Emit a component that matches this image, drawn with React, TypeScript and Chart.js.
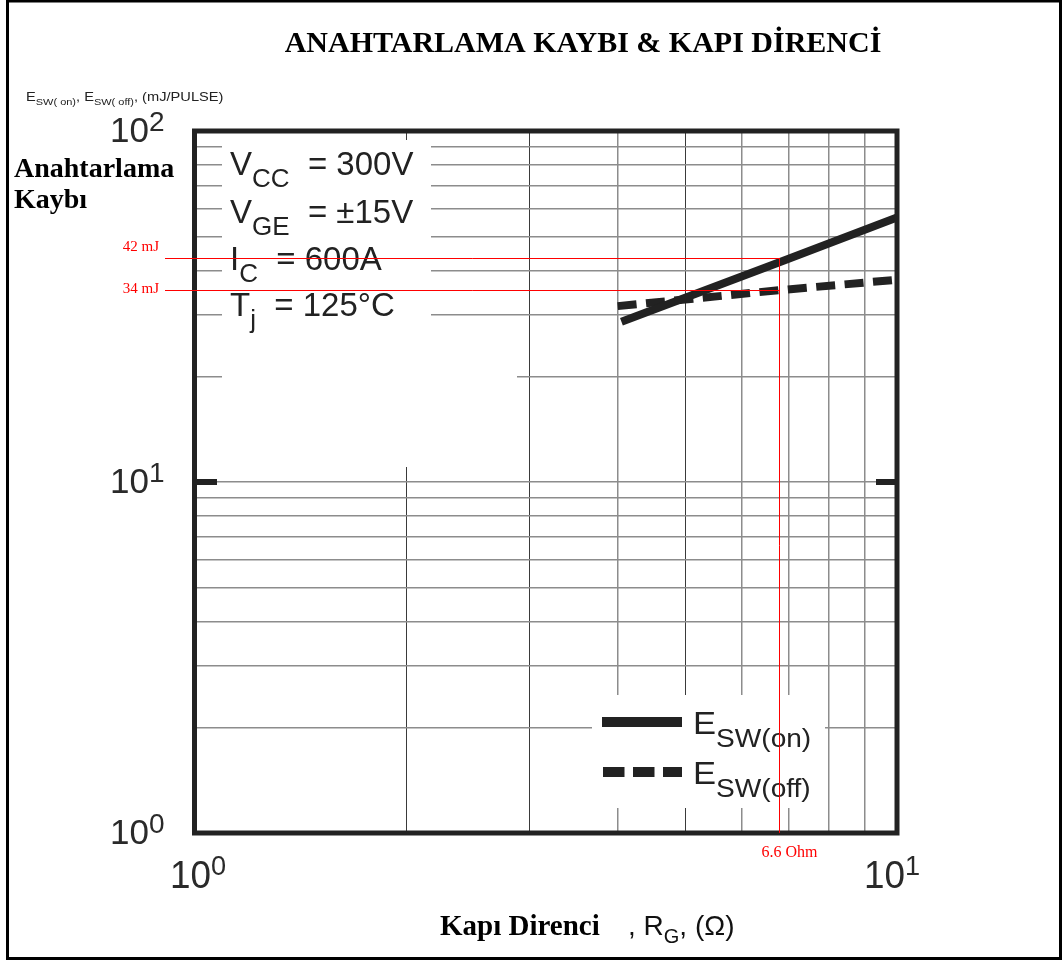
import React, { useEffect, useRef } from 'react';
import { Chart, registerables } from 'chart.js';
Chart.register(...registerables);

const TITLE = 'ANAHTARLAMA KAYBI & KAPI DİRENCİ';
const Y_TITLE_LINES = ['Anahtarlama', 'Kaybı'];
const X_TITLE_BOLD = 'Kapı Direnci';

const RG_ON = [4.05, 6.8, 10];
const E_ON = [28.6, 42.3, 56.7];
const RG_OFF = [4.0, 6.8, 10];
const E_OFF = [31.7, 35.2, 37.7];

const X_GRID = [1, 2, 3, 4, 5, 6, 7, 8, 9, 10];
const Y_GRID = [1, 2, 3, 4, 5, 6, 7, 8, 9, 10, 20, 30, 40, 50, 60, 70, 80, 90, 100];
const X_DARK = [2, 3, 5];
const X_DECADES = [1, 10];
const Y_DECADES = [1, 10, 100];

const COND_MAIN = ['V', 'V', 'I', 'T'];
const COND_SUB = ['CC', 'GE', 'C', 'j'];
const COND_REST = [' = 300V', ' = ±15V', ' = 600A', ' = 125°C'];

const LEGEND_SUBS = ['SW(on)', 'SW(off)'];

const MARK_RG = 6.8;
const MARK_RG_LABEL = '6.6 Ohm';
const MARK_E = [43.4, 35.2];
const MARK_E_LABELS = ['42 mJ', '34 mJ'];

const SANS = "'Liberation Sans', Arial, sans-serif";
const SERIF = "'Liberation Serif', 'Times New Roman', serif";
const INK = '#222';

type Run = { t: string; f: string; dy?: number };

function drawRuns(ctx: CanvasRenderingContext2D, x: number, y: number, runs: Run[], sx = 1, color = INK) {
  ctx.save();
  ctx.translate(x, y);
  ctx.scale(sx, 1);
  ctx.fillStyle = color;
  ctx.textAlign = 'left';
  ctx.textBaseline = 'alphabetic';
  let cx = 0;
  for (const r of runs) {
    ctx.font = r.f;
    ctx.fillText(r.t, cx, r.dy || 0);
    cx += ctx.measureText(r.t).width;
  }
  ctx.restore();
}

const overlay = {
  id: 'overlay',
  beforeDraw(chart: any) {
    const ctx = chart.ctx;
    ctx.save();
    ctx.fillStyle = '#fff';
    ctx.fillRect(0, 0, chart.width, chart.height);
    ctx.restore();
  },
  beforeDatasetsDraw(chart: any) {
    const ctx = chart.ctx;
    ctx.save();
    ctx.fillStyle = '#fff';
    // condition text box
    ctx.fillRect(222, 140, 209, 327);
    ctx.fillRect(222, 330, 295, 137);
    // legend box
    ctx.fillRect(592, 695, 233, 113);
    ctx.restore();
  },
  afterDraw(chart: any) {
    const ctx = chart.ctx;
    const xs = chart.scales.x;
    const ys = chart.scales.y;
    const a = chart.chartArea;
    ctx.save();

    // outer border
    ctx.strokeStyle = '#000';
    ctx.lineWidth = 3;
    ctx.strokeRect(7.5, 1, 1053, 957.5);

    // plot frame
    ctx.strokeStyle = INK;
    ctx.lineWidth = 5;
    ctx.strokeRect(a.left - 0.5, a.top, a.right - a.left + 0.5, a.bottom - a.top);

    // thick decade ticks on y
    ctx.lineWidth = 6;
    for (const v of Y_DECADES) {
      if (v === Y_DECADES[0] || v === Y_DECADES[Y_DECADES.length - 1]) continue;
      const py = ys.getPixelForValue(v);
      ctx.beginPath();
      ctx.moveTo(a.left - 3, py);
      ctx.lineTo(a.left + 22, py);
      ctx.moveTo(a.right - 21, py);
      ctx.lineTo(a.right + 2, py);
      ctx.stroke();
    }

    // y tick labels
    for (const v of Y_DECADES) {
      const py = ys.getPixelForValue(v);
      const e = String(Math.round(Math.log10(v)));
      drawRuns(ctx, 110, py + 11, [
        { t: '10', f: `35px ${SANS}` },
        { t: e, f: `28px ${SANS}`, dy: -11 },
      ], 1, '#2a2a2a');
    }
    // x tick labels
    const xOff = [-25, -33];
    X_DECADES.forEach((v, i) => {
      const px = xs.getPixelForValue(v);
      const e = String(Math.round(Math.log10(v)));
      drawRuns(ctx, px + xOff[i], 888, [
        { t: '10', f: `38px ${SANS}` },
        { t: e, f: `28px ${SANS}`, dy: -13 },
      ], 0.97, '#2a2a2a');
    });

    // title
    ctx.fillStyle = '#000';
    ctx.font = `bold 30px ${SERIF}`;
    ctx.textAlign = 'center';
    ctx.textBaseline = 'alphabetic';
    ctx.fillText(TITLE, 583, 52);

    // unit label top-left
    drawRuns(ctx, 26, 101, [
      { t: 'E', f: `12px ${SANS}` },
      { t: 'SW( on)', f: `9px ${SANS}`, dy: 4 },
      { t: ', E', f: `12px ${SANS}` },
      { t: 'SW( off)', f: `9px ${SANS}`, dy: 4 },
      { t: ', (mJ/PULSE)', f: `12px ${SANS}` },
    ], 1.22, '#222');

    // y title
    ctx.fillStyle = '#000';
    ctx.textAlign = 'left';
    ctx.font = `bold 28px ${SERIF}`;
    ctx.fillText(Y_TITLE_LINES[0], 14, 177);
    ctx.fillText(Y_TITLE_LINES[1], 14, 208);

    // x title
    ctx.font = `bold 29px ${SERIF}`;
    ctx.fillText(X_TITLE_BOLD, 440, 935);
    drawRuns(ctx, 628, 935, [
      { t: ', R', f: `28px ${SANS}` },
      { t: 'G', f: `20px ${SANS}`, dy: 8 },
      { t: ', (Ω)', f: `28px ${SANS}` },
    ], 1, '#111');

    // condition text
    const base = [175, 222.5, 270, 316];
    COND_MAIN.forEach((m, i) => {
      drawRuns(ctx, 230, base[i], [
        { t: m, f: `33px ${SANS}` },
        { t: COND_SUB[i], f: `26px ${SANS}`, dy: 12 },
        { t: ' ', f: `33px ${SANS}` },
        { t: COND_REST[i], f: `33px ${SANS}` },
      ], 1, INK);
    });

    // legend
    ctx.strokeStyle = INK;
    ctx.lineWidth = 10;
    ctx.lineCap = 'butt';
    ctx.beginPath();
    ctx.moveTo(602, 722);
    ctx.lineTo(682, 722);
    ctx.stroke();
    ctx.setLineDash([21.5, 8.5]);
    ctx.beginPath();
    ctx.moveTo(603, 772);
    ctx.lineTo(682, 772);
    ctx.stroke();
    ctx.setLineDash([]);
    const lb = [733.5, 784];
    LEGEND_SUBS.forEach((s, i) => {
      drawRuns(ctx, 693, lb[i], [
        { t: 'E', f: `32px ${SANS}` },
        { t: s, f: `26px ${SANS}`, dy: 13 },
      ], 1.08, INK);
    });

    // red annotations
    const rx = xs.getPixelForValue(MARK_RG);
    ctx.strokeStyle = '#ff0000';
    ctx.lineWidth = 1;
    const ryTop = ys.getPixelForValue(MARK_E[0]);
    MARK_E.forEach((v) => {
      const py = Math.round(ys.getPixelForValue(v)) + 0.5;
      ctx.beginPath();
      ctx.moveTo(165, py);
      ctx.lineTo(rx, py);
      ctx.stroke();
    });
    ctx.beginPath();
    ctx.moveTo(Math.round(rx) + 0.5, ryTop);
    ctx.lineTo(Math.round(rx) + 0.5, a.bottom);
    ctx.stroke();

    ctx.fillStyle = '#ff0000';
    ctx.font = `15px ${SERIF}`;
    ctx.textAlign = 'right';
    ctx.textBaseline = 'middle';
    ctx.fillText(MARK_E_LABELS[0], 159, ys.getPixelForValue(MARK_E[0]) - 11);
    ctx.fillText(MARK_E_LABELS[1], 159, ys.getPixelForValue(MARK_E[1]) - 1);
    ctx.textAlign = 'center';
    ctx.textBaseline = 'alphabetic';
    ctx.font = `16px ${SERIF}`;
    ctx.fillText(MARK_RG_LABEL, rx + 10, 857);

    ctx.restore();
  },
};

export default function App() {
  const ref = useRef<HTMLCanvasElement | null>(null);
  useEffect(() => {
    const canvas = ref.current;
    if (!canvas) return;
    const chart = new Chart(canvas, {
      type: 'scatter',
      data: {
        datasets: [
          {
            label: 'ESW(on)',
            data: RG_ON.map((x, i) => ({ x, y: E_ON[i] })),
            showLine: true,
            borderColor: INK,
            backgroundColor: INK,
            borderWidth: 8,
            pointRadius: 0,
            borderCapStyle: 'butt',
            tension: 0,
          },
          {
            label: 'ESW(off)',
            data: RG_OFF.map((x, i) => ({ x, y: E_OFF[i] })),
            showLine: true,
            borderColor: INK,
            backgroundColor: INK,
            borderWidth: 8,
            borderDash: [19, 9.5],
            pointRadius: 0,
            borderCapStyle: 'butt',
            tension: 0,
          },
        ],
      },
      options: {
        responsive: false,
        animation: false,
        devicePixelRatio: 1,
        events: [],
        layout: { padding: { left: 195, right: 167, top: 131, bottom: 130 } },
        plugins: { legend: { display: false }, tooltip: { enabled: false }, title: { display: false } },
        scales: {
          x: {
            type: 'logarithmic',
            min: 1,
            max: 10,
            afterBuildTicks: (s: any) => { s.ticks = X_GRID.map((v) => ({ value: v })); },
            ticks: { display: false },
            border: { display: false },
            grid: {
              drawTicks: false,
              color: (c: any) => (X_DARK.includes(c.tick?.value) ? '#3a3a3a' : '#8c8c8c'),
              lineWidth: (c: any) => (X_DARK.includes(c.tick?.value) ? 1 : 1.5),
            },
          },
          y: {
            type: 'logarithmic',
            min: 1,
            max: 100,
            afterBuildTicks: (s: any) => { s.ticks = Y_GRID.map((v) => ({ value: v })); },
            ticks: { display: false },
            border: { display: false },
            grid: { drawTicks: false, color: '#8c8c8c', lineWidth: 1.5 },
          },
        },
      },
      plugins: [overlay],
    } as any);
    return () => chart.destroy();
  }, []);
  return (
    <div style={{ position: 'absolute', left: 0, top: 0, width: 1064, height: 963 }}>
      <canvas ref={ref} width={1064} height={963} style={{ display: 'block', width: 1064, height: 963 }} />
    </div>
  );
}
